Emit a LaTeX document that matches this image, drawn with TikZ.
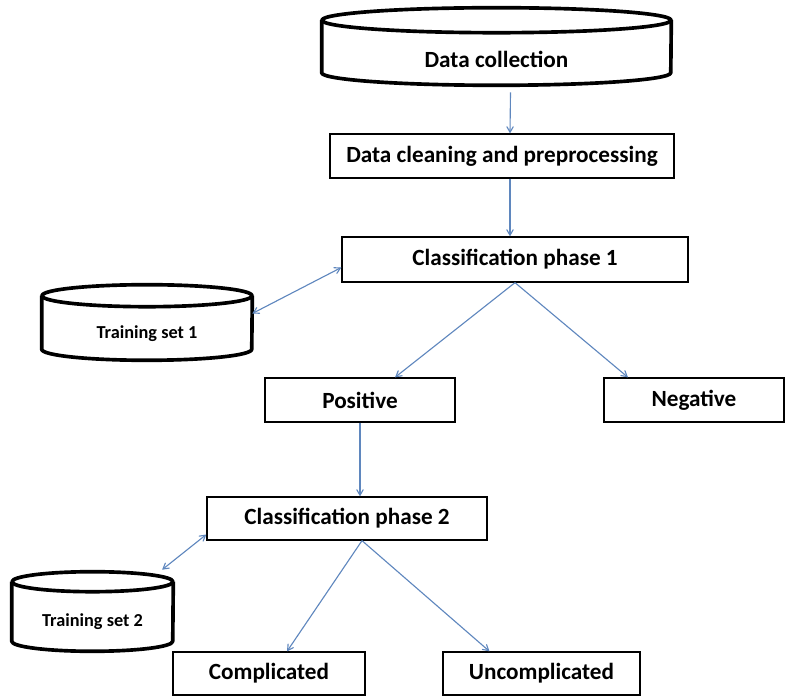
\documentclass[tikz,border=0pt]{standalone}
\usepackage{fontspec}
\setmainfont{Carlito}
\usepackage{tikz}
\usetikzlibrary{arrows}
\definecolor{arrowblue}{RGB}{95,135,190}

\begin{document}
\begin{tikzpicture}[x=0.025cm,y=-0.025cm,->,>=angle 60,
    box/.style={draw,rectangle,line width=0.9pt,inner sep=0pt,font=\bfseries\fontsize{16.5}{19}\selectfont},
    store/.style={rectangle,inner sep=0pt,font=\bfseries\fontsize{13}{15}\selectfont},
    cyl/.style={-,draw,line width=2.6pt,line join=round},
    link/.style={draw=arrowblue,line width=0.8pt}]

      \useasboundingbox (0,0) rectangle (785,696);

      % cylinder nodes are the body below the top ellipse
      \node[store,minimum width=8.725cm,minimum height=1.3cm,font=\bfseries\fontsize{16.5}{19}\selectfont] (collect) at (496.5,59) {Data collection};
      \node[box,minimum width=8.6cm,minimum height=1.1cm] (clean) at (502,156) {Data cleaning and preprocessing};
      \node[box,minimum width=8.65cm,minimum height=1.125cm] (phase1) at (515,259.5) {Classification phase 1};
      \node[store,minimum width=5.25cm,minimum height=1.325cm] (train1) at (147,333.5) {Training set 1};

      \node[box,minimum width=4.75cm,minimum height=1.1cm] (pos) at (360,400) {Positive};
      \node[box,minimum width=4.5cm,minimum height=1.1cm] (neg) at (694,400) {Negative};

      \node[box,minimum width=7cm,minimum height=1.075cm] (phase2) at (347,518.5) {Classification phase 2};
      \node[store,minimum width=4.025cm,minimum height=1.475cm] (train2) at (92.5,621.5) {Training set 2};

      \node[box,minimum width=4.8cm,minimum height=1.075cm] (comp) at (269,673.5) {Complicated};
      \node[box,minimum width=4.925cm,minimum height=1.075cm] (uncomp) at (541.5,673.5) {Uncomplicated};

  \foreach \n/\w/\r in {collect/4.3625cm/0.3125cm, train1/2.625cm/0.275cm, train2/2.0125cm/0.25cm}{
     \draw[cyl] ([yshift=\r]\n.north) ellipse [x radius=\w, y radius=\r];
     \draw[cyl] ([yshift=\r]\n.north west) -- ([yshift=\r]\n.south west)
        arc [start angle=180, end angle=360, x radius=\w, y radius=\r] -- ([yshift=\r]\n.north east);
  }

  \draw[link] ([xshift=0.35cm,yshift=-0.18cm]collect.south) -- ([xshift=0.2cm]clean.north);
  \draw[link] ([xshift=0.2cm]clean.south) -- ([xshift=0.2cm]clean.south |- phase1.north);
  \draw[link,<->] ([yshift=0.5cm]train1.east) -- ([yshift=-0.2cm]phase1.west);
  \draw[link] (phase1.south) -- ([xshift=0.875cm]pos.north);
  \draw[link] (phase1.south) -- ([xshift=-1.65cm]neg.north);
  \draw[link] (pos.south) -- (pos.south |- phase2.north);
  \draw[link,<->] ([xshift=1.74cm,yshift=0.55cm]train2.north) -- ([yshift=-0.4cm]phase2.west);
  \draw[link] ([xshift=0.375cm]phase2.south) -- ([xshift=0.45cm]comp.north);
  \draw[link] ([xshift=0.375cm]phase2.south) -- ([xshift=-1.3cm]uncomp.north);

\end{tikzpicture}
\end{document}
